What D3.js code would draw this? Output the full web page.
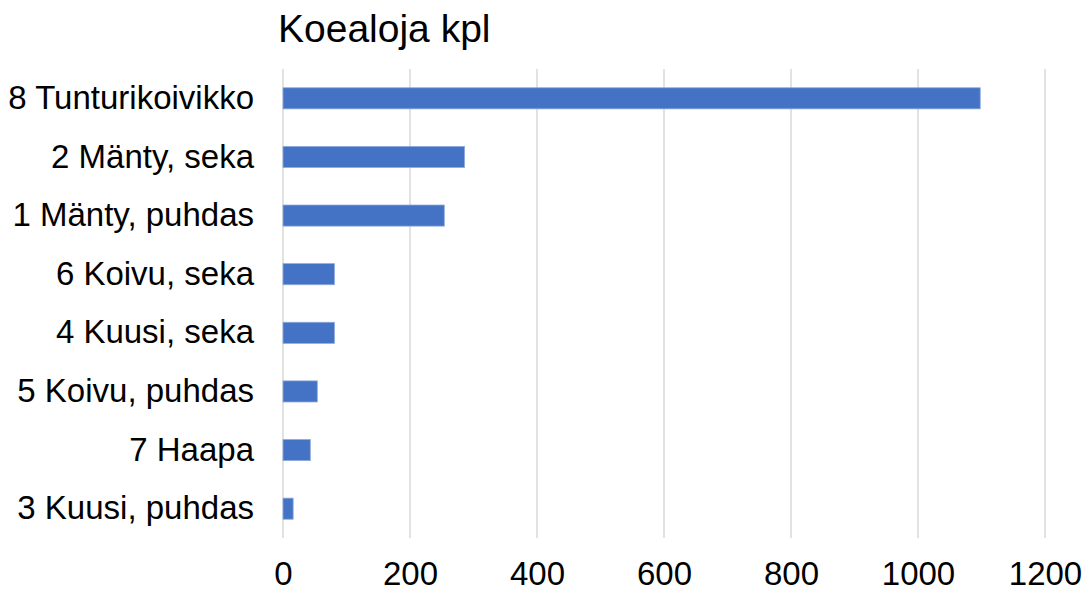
<!DOCTYPE html>
<html>
<head>
<meta charset="utf-8">
<script src="https://cdn.jsdelivr.net/npm/d3@7/dist/d3.min.js"></script>
<style>
  html, body { margin: 0; padding: 0; background: #fff; }
  svg { display: block; font-family: "Liberation Sans", Arial, sans-serif; }
</style>
</head>
<body>
<svg id="chart" width="1086" height="591"></svg>
<script>
// Number of sample plots per forest type
const categories = [
  "8 Tunturikoivikko",
  "2 Mänty, seka",
  "1 Mänty, puhdas",
  "6 Koivu, seka",
  "4 Kuusi, seka",
  "5 Koivu, puhdas",
  "7 Haapa",
  "3 Kuusi, puhdas"
];
const counts = [1098, 286, 254, 81, 81, 54, 43, 16];
const tickValues = [0, 200, 400, 600, 800, 1000, 1200];
const title = "Koealoja kpl";

const svg = d3.select("#chart");
const margin = { left: 283, right: 41, top: 69, bottom: 53 };
const width = 1086, height = 591;

const x = d3.scaleLinear()
  .domain([0, 1200])
  .range([margin.left, width - margin.right]);

const y = d3.scaleBand()
  .domain(categories)
  .range([margin.top, height - margin.bottom])
  .paddingInner(0.64)
  .paddingOuter(0.32);

// vertical gridlines
svg.append("g")
  .selectAll("line")
  .data(tickValues)
  .join("line")
  .attr("x1", d => x(d)).attr("x2", d => x(d))
  .attr("y1", margin.top).attr("y2", height - margin.bottom)
  .attr("stroke", "#d9d9d9")
  .attr("stroke-width", 1.5);

// bars
svg.append("g")
  .selectAll("rect")
  .data(categories.map((c, i) => ({ c, v: counts[i] })))
  .join("rect")
  .attr("x", x(0))
  .attr("y", d => y(d.c))
  .attr("width", d => x(d.v) - x(0))
  .attr("height", y.bandwidth())
  .attr("fill", "#4472c4")
  .attr("stroke", "#8faadc")
  .attr("stroke-width", 0.8);

// category labels
const yAxis = d3.axisLeft(y).tickSize(0).tickPadding(0);
const gy = svg.append("g")
  .attr("transform", `translate(${margin.left - 29},0)`)
  .call(yAxis);
gy.select(".domain").remove();
gy.selectAll("text")
  .attr("font-size", 33)
  .attr("fill", "#000")
  .style("font-family", "'Liberation Sans', Arial, sans-serif");

// value axis labels
const xAxis = d3.axisBottom(x).tickValues(tickValues).tickSize(0).tickPadding(0)
  .tickFormat(d3.format("d"));
const gx = svg.append("g")
  .attr("transform", `translate(0,${height - 15})`)
  .call(xAxis);
gx.select(".domain").remove();
gx.selectAll("text")
  .attr("dy", null)
  .attr("y", 0)
  .attr("dominant-baseline", "middle")
  .attr("font-size", 33)
  .attr("fill", "#000")
  .style("font-family", "'Liberation Sans', Arial, sans-serif");

// title
svg.append("text")
  .attr("x", 278)
  .attr("y", 42)
  .attr("font-size", 39)
  .attr("fill", "#000")
  .text(title);
</script>
</body>
</html>
